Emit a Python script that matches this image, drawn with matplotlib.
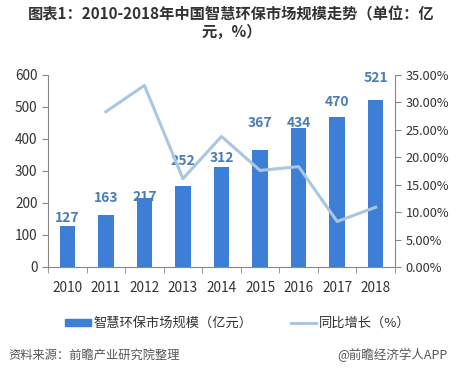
import matplotlib
matplotlib.use("Agg")
import matplotlib.pyplot as plt
import numpy as np
from matplotlib.ticker import FuncFormatter, FixedLocator

plt.rcParams['font.family'] = ['Noto Sans CJK SC', 'DejaVu Sans']

years = ['2010', '2011', '2012', '2013', '2014', '2015', '2016', '2017', '2018']
scale = [127, 163, 217, 252, 312, 367, 434, 470, 521]
growth = [None, 28.3, 33.1, 16.1, 23.8, 17.6, 18.3, 8.3, 10.9]

# label offsets above bar tops (pixels), placed by hand in the original to dodge the line
label_gap = [8, 17, 1, 25, 9, 27, 5, 15, 22]

bar_color = '#3D7FD6'
line_color = '#A9C7E2'
text_color = '#333333'

fig = plt.figure(figsize=(4.63, 3.70), dpi=100)
ax = fig.add_axes([48 / 463, 1 - 267 / 370, (395 - 48) / 463, (267 - 75) / 370])
x = np.arange(len(years))
ax.bar(x, scale, width=0.4, color=bar_color, zorder=2)
for xi, v, g in zip(x, scale, label_gap):
    ax.annotate(str(v), (xi, v), xytext=(0, g * 0.72), textcoords='offset points',
                ha='center', va='center', fontsize=10, fontweight='bold',
                color='#4A7DB8', zorder=4)
ax.set_xlim(-0.5, len(years) - 0.5)
ax.set_ylim(0, 600)
ax.set_yticks(range(0, 601, 100))
ax.set_xticks(x)
ax.set_xticklabels(years)
ax.xaxis.set_minor_locator(FixedLocator(np.arange(-0.5, len(years), 1)))
ax.tick_params(axis='x', which='major', length=0, labelsize=9.8, colors=text_color, pad=10)
ax.tick_params(axis='x', which='minor', length=4, color='#888888')
ax.tick_params(axis='y', length=4, labelsize=9.8, colors=text_color, color='#888888')
for s in ['top', 'right']:
    ax.spines[s].set_visible(False)
ax.spines['left'].set_color('#888888')
ax.spines['bottom'].set_color('#888888')

ax2 = ax.twinx()
gx = [xi for xi, g in zip(x, growth) if g is not None]
gy = [g for g in growth if g is not None]
ax2.plot(gx, gy, color=line_color, linewidth=2.2, zorder=3)
ax2.set_ylim(0, 35)
ax2.set_yticks(range(0, 36, 5))
ax2.yaxis.set_major_formatter(FuncFormatter(lambda v, p: f'{v:.2f}%'))
ax2.tick_params(axis='y', length=4, labelsize=9.2, colors=text_color, color='#888888')
for s in ['top', 'left', 'bottom']:
    ax2.spines[s].set_visible(False)
ax2.spines['right'].set_color('#888888')

fig.text(0.5, 1 - 14 / 370, '图表1：2010-2018年中国智慧环保市场规模走势（单位：亿',
         ha='center', va='center', fontsize=11, fontweight='bold', color='#333333')
fig.text(0.5, 1 - 32 / 370, '元，%）',
         ha='center', va='center', fontsize=11, fontweight='bold', color='#333333')

# legend
fig.patches.append(plt.Rectangle((65 / 463, 1 - 326 / 370), 26 / 463, 7 / 370,
                                 transform=fig.transFigure, color=bar_color))
fig.text(93 / 463, 1 - 323 / 370, '智慧环保市场规模（亿元）', ha='left', va='center',
         fontsize=9.5, color=text_color)
fig.lines.append(plt.Line2D([291 / 463, 316 / 463], [1 - 323 / 370, 1 - 323 / 370],
                            transform=fig.transFigure, color=line_color, linewidth=2.2))
fig.text(319 / 463, 1 - 323 / 370, '同比增长（%）', ha='left', va='center',
         fontsize=9.5, color=text_color)

fig.text(8 / 463, 1 - 355 / 370, '资料来源：前瞻产业研究院整理', ha='left', va='center',
         fontsize=8.8, color='#555555', style='italic')
fig.text(447 / 463, 1 - 355 / 370, '@前瞻经济学人APP', ha='right', va='center',
         fontsize=9, color='#555555')

fig.savefig('out.png', dpi=100)
